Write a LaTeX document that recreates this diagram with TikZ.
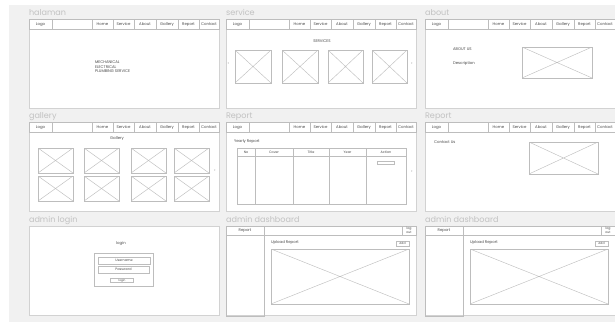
\documentclass[tikz,border=0pt]{standalone}
\usepackage{fontspec}
\setmainfont{Poppins}
\usetikzlibrary{positioning}
\definecolor{boardgray}{HTML}{F1F1F1}
\definecolor{framegray}{HTML}{D2D2D2}
\definecolor{linegray}{HTML}{BDBDBD}
\definecolor{titlegray}{HTML}{C2C2C2}
\definecolor{textgray}{HTML}{4A4A4A}

\begin{document}
\begin{tikzpicture}[x=0.1cm,y=-0.1cm,
  panel/.style={draw=framegray,line width=1.6pt,fill=white,anchor=north west,minimum width=19cm,minimum height=8.9cm,inner sep=0pt,outer sep=0pt},
  judul/.style={anchor=base west,inner sep=0pt,text=titlegray,font=\fontsize{23}{26}\selectfont},
  navcel/.style={draw=linegray,line width=1.4pt,anchor=north west,minimum height=1cm,inner sep=0pt,outer sep=0pt,text height=1.5ex,text depth=0.4ex,text=textgray,font=\fontsize{11}{12}\selectfont},
  tekst/.style={inner sep=0pt,text=textgray,font=\fontsize{11}{12.5}\selectfont},
  kotak/.style={draw=linegray,line width=1.4pt,anchor=north west,inner sep=0pt,outer sep=0pt,text height=1.5ex,text depth=0.4ex,text=textgray,font=\fontsize{9.5}{10}\selectfont},
  gambar/.style 2 args={kotak,minimum width=#1,minimum height=#2,path picture={\draw[linegray,line width=1.2pt] (path picture bounding box.north west) -- (path picture bounding box.south east) (path picture bounding box.south west) -- (path picture bounding box.north east);}},
  panah/.style={inner sep=0pt,text=textgray,font=\fontsize{8}{8}\selectfont},
  navbar/.pic={
    \node[navcel,minimum width=2.3cm] (-logo) at (0,0) {Logo};
    \node[navcel,minimum width=4cm] (-kosong) at (23,0) {};
    \node[navcel,minimum width=2.1cm] (-home) at (63,0) {Home};
    \node[navcel,minimum width=2.1cm] (-service) at (84,0) {Service};
    \node[navcel,minimum width=2.2cm] (-about) at (105,0) {About};
    \node[navcel,minimum width=2.2cm] (-gallery) at (127,0) {Gallery};
    \node[navcel,minimum width=2.1cm] (-report) at (149,0) {Report};
    \node[navcel,minimum width=2cm] (-contact) at (170,0) {Contact};
  },
  dasbor/.pic={
    \node[navcel,minimum width=3.8cm,minimum height=0.9cm] (-report) at (0,0) {Report};
    \node[navcel,minimum width=13.8cm,minimum height=0.9cm] (-kosong) at (38,0) {};
    \node[navcel,minimum width=1.4cm,minimum height=0.9cm,text height=,text depth=,align=center,font=\fontsize{9}{10}\selectfont] (-logout) at (176,0) {log\\out};
    \node[navcel,minimum width=3.8cm,minimum height=8.1cm] (-sidebar) at (0,9) {};
    \node[tekst,anchor=west] (-upload) at (45,17) {Upload Report};
    \node[kotak,minimum width=1.3cm,minimum height=0.5cm,font=\fontsize{8.5}{9}\selectfont] (-add) at (170,15) {Add};
    \node[gambar={13.8cm}{5.5cm}] (-img) at (45,23) {};
  }
]
\useasboundingbox (0,0) rectangle (615,322);
\fill[boardgray] (9,5) rectangle (615,322);

% halaman
\node[panel] (halaman) at (29,19) {};
\node[judul] (jhalaman) at (29,15.5) {halaman};
\pic (nav1) at (halaman.north west) {navbar};
\node[tekst,anchor=north west,align=left] (mep) at (95,61) {MECHANICAL\\ELECTRICAL\\PLUMBING SERVICE};

% service
\node[panel] (service) at (226,19) {};
\node[judul] (jservice) at (226,15.5) {service};
\pic (nav2) at (service.north west) {navbar};
\node[tekst] (tservice) at (322,41) {SERVICES};
\node[gambar={3.6cm}{3.3cm}] (s1) at (235,50) {};
\node[gambar={3.6cm}{3.3cm}] (s2) at (282,50) {};
\node[gambar={3.5cm}{3.3cm}] (s3) at (328,50) {};
\node[gambar={3.5cm}{3.3cm}] (s4) at (372,50) {};
\node[panah] (skiri) at (228.5,64) {<};
\node[panah] (skanan) at (412,64) {>};

% about
\node[panel] (about) at (425,19) {};
\node[judul] (jabout) at (425,15.5) {about};
\pic (nav3) at (about.north west) {navbar};
\node[tekst,anchor=west] (aboutus) at (453,49) {ABOUT US};
\node[tekst,anchor=west] (desc) at (453,64) {Description};
\node[gambar={7cm}{3.1cm}] (aimg) at (522,47) {};

% gallery
\node[panel] (gallery) at (29,122) {};
\node[judul] (jgallery) at (29,118.5) {gallery};
\pic (nav4) at (gallery.north west) {navbar};
\node[tekst] (tgallery) at (117,139) {Gallery};
\node[gambar={3.5cm}{2.5cm}] (g1) at (38,148) {};
\node[gambar={3.5cm}{2.5cm}] (g2) at (84,148) {};
\node[gambar={3.5cm}{2.5cm}] (g3) at (131,148) {};
\node[gambar={3.5cm}{2.5cm}] (g4) at (174,148) {};
\node[gambar={3.5cm}{2.5cm}] (g5) at (38,176) {};
\node[gambar={3.5cm}{2.5cm}] (g6) at (84,176) {};
\node[gambar={3.5cm}{2.5cm}] (g7) at (131,176) {};
\node[gambar={3.5cm}{2.5cm}] (g8) at (174,176) {};
\node[panah] (gkanan) at (215,171) {>};

% report
\node[panel] (report) at (226,122) {};
\node[judul] (jreport) at (226,118.5) {Report};
\pic (nav5) at (report.north west) {navbar};
\node[tekst,anchor=west] (yearly) at (234,142) {Yearly Report};
\node[kotak,minimum width=1.8cm,minimum height=0.8cm] (hno) at (237,148) {No};
\node[kotak,minimum width=3.8cm,minimum height=0.8cm] (hcover) at (255,148) {Cover};
\node[kotak,minimum width=3.6cm,minimum height=0.8cm] (htitle) at (293,148) {Title};
\node[kotak,minimum width=3.7cm,minimum height=0.8cm] (hyear) at (329,148) {Year};
\node[kotak,minimum width=4cm,minimum height=0.8cm] (haction) at (366,148) {Action};
\node[kotak,minimum width=1.8cm,minimum height=4.8cm] (bno) at (237,156) {};
\node[kotak,minimum width=3.8cm,minimum height=4.8cm] (bcover) at (255,156) {};
\node[kotak,minimum width=3.6cm,minimum height=4.8cm] (btitle) at (293,156) {};
\node[kotak,minimum width=3.7cm,minimum height=4.8cm] (byear) at (329,156) {};
\node[kotak,minimum width=4cm,minimum height=4.8cm] (baction) at (366,156) {};
\node[kotak,minimum width=1.7cm,minimum height=0.35cm] (tombol) at (377,161) {};
\node[panah] (rkanan) at (412,172) {>};

% contact
\node[panel] (contact) at (425,122) {};
\node[judul] (jcontact) at (425,118.5) {Report};
\pic (nav6) at (contact.north west) {navbar};
\node[tekst,anchor=west] (contactus) at (434,142) {Contact Us};
\node[gambar={6.9cm}{3.2cm}] (cimg) at (529,142) {};

% admin login
\node[panel] (login) at (29,226) {};
\node[judul] (jlogin) at (29,222.5) {admin login};
\node[tekst] (tlogin) at (121,244) {login};
\node[kotak,minimum width=5.9cm,minimum height=3.3cm] (form) at (94,253) {};
\node[kotak,minimum width=5.2cm,minimum height=0.7cm] (user) at (98,257) {Username};
\node[kotak,minimum width=5.1cm,minimum height=0.7cm] (pass) at (98,266) {Password};
\node[kotak,minimum width=2.3cm,minimum height=0.4cm,font=\fontsize{8}{8}\selectfont] (btnlogin) at (110.5,278) {login};

% admin dashboard
\node[panel] (dash1) at (226,226) {};
\node[judul] (jdash1) at (226,222.5) {admin dashboard};
\pic (d1) at (dash1.north west) {dasbor};
\node[panel] (dash2) at (425,226) {};
\node[judul] (jdash2) at (425,222.5) {admin dashboard};
\pic (d2) at (dash2.north west) {dasbor};
\end{tikzpicture}
\end{document}
